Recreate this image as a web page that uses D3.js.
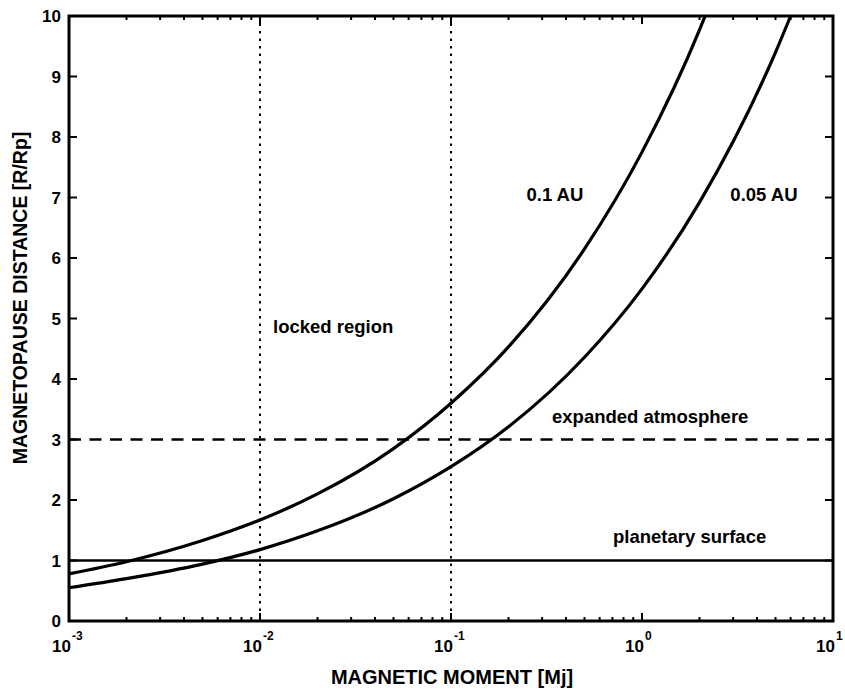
<!DOCTYPE html>
<html>
<head>
<meta charset="utf-8">
<script src="https://cdn.jsdelivr.net/npm/d3@7"></script>
<style>
  body { margin: 0; background: #fff; }
  text { font-family: "Liberation Sans", Arial, sans-serif; font-weight: bold; fill: #000; }
</style>
</head>
<body>
<div id="chart"></div>
<script>
// magnetic moment [Mj] sample points
var moment_01 = [0.001, 0.002, 0.005, 0.01, 0.02, 0.05, 0.1, 0.2, 0.5, 1, 2, 2.14];
var dist_01   = [0.78, 0.98, 1.33, 1.67, 2.1, 2.85, 3.6, 4.53, 6.15, 7.75, 9.77, 10];

var moment_005 = [0.001, 0.002, 0.005, 0.01, 0.02, 0.05, 0.1, 0.2, 0.5, 1, 2, 5, 6.0];
var dist_005   = [0.55, 0.70, 0.94, 1.18, 1.49, 2.02, 2.55, 3.21, 4.36, 5.49, 6.92, 9.4, 10];

var xTicks = [0.001, 0.01, 0.1, 1, 10];
var xTickExp = ["-3", "-2", "-1", "0", "1"];
var yTicks = [0, 1, 2, 3, 4, 5, 6, 7, 8, 9, 10];

var refLevels = [1, 3];          // planetary surface, expanded atmosphere
var refMoments = [0.01, 0.1];    // locked region bounds

var labels = [
  {text: "0.1 AU", x: 0.35, y: 6.94, anchor: "middle"},
  {text: "0.05 AU", x: 4.35, y: 6.94, anchor: "middle"},
  {text: "locked region", x: 0.0117, y: 4.76, anchor: "start"},
  {text: "expanded atmosphere", x: 0.338, y: 3.27, anchor: "start"},
  {text: "planetary surface", x: 0.705, y: 1.29, anchor: "start"}
];

var w = 845, h = 690,
    margin = {top: 16, right: 12, bottom: 69, left: 69},
    width = w - margin.left - margin.right,
    height = h - margin.top - margin.bottom;

var svg = d3.select("#chart").append("svg").attr("width", w).attr("height", h);
var g = svg.append("g").attr("transform", "translate(" + margin.left + "," + margin.top + ")");

var x = d3.scaleLog().domain([0.001, 10]).range([0, width]);
var y = d3.scaleLinear().domain([0, 10]).range([height, 0]);

// minor ticks on the log axis
var minor = [];
for (var e = -3; e < 1; e++) {
  for (var k = 2; k <= 9; k++) minor.push(k * Math.pow(10, e));
}

// reference lines
g.selectAll(".vref").data(refMoments).enter().append("line")
    .attr("x1", function(d) { return x(d); }).attr("x2", function(d) { return x(d); })
    .attr("y1", 0).attr("y2", height)
    .attr("stroke", "#000").attr("stroke-width", 2)
    .attr("stroke-dasharray", "2.5,5");

g.append("line")
    .attr("x1", 0).attr("x2", width)
    .attr("y1", y(refLevels[1])).attr("y2", y(refLevels[1]))
    .attr("stroke", "#000").attr("stroke-width", 2.5)
    .attr("stroke-dasharray", "12,8.5");

g.append("line")
    .attr("x1", 0).attr("x2", width)
    .attr("y1", y(refLevels[0])).attr("y2", y(refLevels[0]))
    .attr("stroke", "#000").attr("stroke-width", 2.5);

// curves
var line = d3.line()
    .x(function(d) { return x(d[0]); })
    .y(function(d) { return y(d[1]); })
    .curve(d3.curveMonotoneX);

[[moment_01, dist_01], [moment_005, dist_005]].forEach(function(s) {
  g.append("path")
      .datum(d3.zip(s[0], s[1]))
      .attr("fill", "none")
      .attr("stroke", "#000")
      .attr("stroke-width", 3.2)
      .attr("stroke-linejoin", "round")
      .attr("d", line);
});

// ticks, inside, on all four sides
var tk = g.append("g").attr("stroke", "#000").attr("stroke-width", 2);
xTicks.forEach(function(d) {
  tk.append("line").attr("x1", x(d)).attr("x2", x(d)).attr("y1", height).attr("y2", height - 8);
  tk.append("line").attr("x1", x(d)).attr("x2", x(d)).attr("y1", 0).attr("y2", 8);
});
minor.forEach(function(d) {
  tk.append("line").attr("x1", x(d)).attr("x2", x(d)).attr("y1", height).attr("y2", height - 4);
  tk.append("line").attr("x1", x(d)).attr("x2", x(d)).attr("y1", 0).attr("y2", 4);
});
yTicks.forEach(function(d) {
  tk.append("line").attr("x1", 0).attr("x2", 8).attr("y1", y(d)).attr("y2", y(d));
  tk.append("line").attr("x1", width).attr("x2", width - 8).attr("y1", y(d)).attr("y2", y(d));
});

// frame
g.append("rect")
    .attr("width", width).attr("height", height)
    .attr("fill", "none").attr("stroke", "#000").attr("stroke-width", 3);

// tick labels
g.selectAll(".ylab").data(yTicks).enter().append("text")
    .attr("x", -8).attr("y", function(d) { return y(d); })
    .attr("dy", "0.36em")
    .attr("text-anchor", "end")
    .style("font-size", "17px")
    .text(function(d) { return d; });

var xl = g.selectAll(".xlab").data(xTicks).enter().append("text")
    .attr("x", function(d) { return x(d) - 17; })
    .attr("y", height + 31)
    .attr("text-anchor", "start")
    .style("font-size", "17px");
xl.append("tspan").text("10");
xl.append("tspan")
    .attr("dy", -12).attr("dx", 1)
    .style("font-size", "12px")
    .text(function(d, i) { return xTickExp[i]; });

// annotations
g.selectAll(".ann").data(labels).enter().append("text")
    .attr("x", function(d) { return x(d.x); })
    .attr("y", function(d) { return y(d.y); })
    .attr("text-anchor", function(d) { return d.anchor; })
    .style("font-size", "18.5px")
    .text(function(d) { return d.text; });

// axis titles
svg.append("text")
    .attr("x", 452).attr("y", 684)
    .attr("text-anchor", "middle")
    .style("font-size", "20px")
    .text("MAGNETIC MOMENT [Mj]");

svg.append("text")
    .attr("transform", "translate(27,298) rotate(-90)")
    .attr("text-anchor", "middle")
    .style("font-size", "19.5px")
    .text("MAGNETOPAUSE DISTANCE [R/Rp]");
</script>
</body>
</html>
